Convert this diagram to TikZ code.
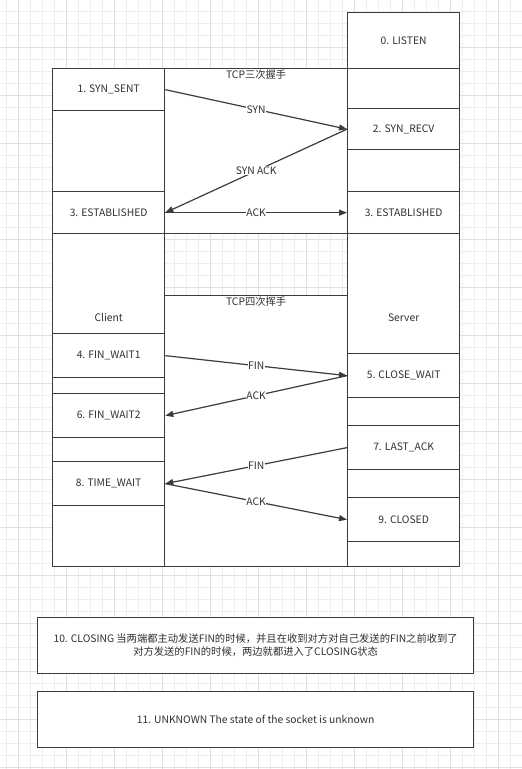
\documentclass[tikz,border=0pt]{standalone}
\usepackage{fontspec}
\setmainfont{Noto Sans CJK SC}
\usepackage{xcolor}
\usetikzlibrary{arrows.meta}
\definecolor{linegray}{RGB}{60,60,60}
\definecolor{textgray}{RGB}{48,48,48}
\definecolor{gridlight}{RGB}{238,238,238}
\definecolor{griddark}{RGB}{224,224,224}

\begin{document}
\begin{tikzpicture}[x=1pt,y=-1pt,
    box/.style={draw=linegray, line width=1.3pt, fill=white, inner sep=0pt,
      anchor=north west, text=textgray, font=\fontsize{10.3}{12}\selectfont},
    cell/.style={box, minimum width=112pt, minimum height=42pt},
    msg/.style={draw=linegray, line width=1.2pt, -{Triangle[length=8pt,width=6pt]}},
    tag/.style={fill=white, inner sep=0.5pt, text=textgray, font=\fontsize{10.3}{12}\selectfont}]
  \useasboundingbox (0,0) rectangle (522,769);
  \fill[white] (0,0) rectangle (522,769);

  % background grid
  \foreach \k in {0,...,43}
    \draw[gridlight, line width=0.8pt] (6.7+12*\k,0) -- (6.7+12*\k,769);
  \foreach \k in {0,...,63}
    \draw[gridlight, line width=0.8pt] (0,11+12*\k) -- (522,11+12*\k);
  \foreach \k in {1,5,...,41}
    \draw[griddark, line width=0.8pt] (6.7+12*\k,0) -- (6.7+12*\k,769);
  \foreach \k in {3,7,...,63}
    \draw[griddark, line width=0.8pt] (0,11+12*\k) -- (522,11+12*\k);

  % columns
  \node[box, minimum width=112pt, minimum height=498pt] (client) at (52,68) {Client};
  \node[box, minimum width=112pt, minimum height=498pt] (server) at (347,68) {Server};
  \node[box, minimum width=112pt, minimum height=56pt] (listen) at (347,12) {0. LISTEN};

  % handshake areas
  \node[box, minimum width=183pt, minimum height=165pt] (open) at (164,68) {};
  \node[tag, anchor=north, fill=none] (openlbl) at ([yshift=-1pt]open.north) {TCP三次握手};
  \node[box, minimum width=183pt, minimum height=271pt] (close) at (164,295) {};
  \node[tag, anchor=north, fill=none] (closelbl) at ([yshift=-1pt]close.north) {TCP四次挥手};

  % client states
  \node[cell] (synsent) at (52,68) {1. SYN\_SENT};
  \node[cell] (cest) at (52,191) {3. ESTABLISHED};
  \node[cell, minimum height=44pt] (finwaita) at (52,333) {4. FIN\_WAIT1};
  \node[cell, minimum height=44pt] (finwaitb) at (52,393) {6. FIN\_WAIT2};
  \node[cell, minimum height=44pt] (timewait) at (52,461) {8. TIME\_WAIT};

  % server states
  \node[cell, minimum height=41pt] (synrecv) at (347,108) {2. SYN\_RECV};
  \node[cell] (sest) at (347,191) {3. ESTABLISHED};
  \node[cell, minimum height=44pt] (closewait) at (347,353) {5. CLOSE\_WAIT};
  \node[cell, minimum height=44pt] (lastack) at (347,425) {7. LAST\_ACK};
  \node[cell, minimum height=44pt] (closed) at (347,497) {9. CLOSED};

  % messages
  \draw[msg] (synsent.east) -- node[tag] {SYN} (synrecv.west);
  \draw[msg] (synrecv.west) -- node[tag] {SYN ACK} (cest.east);
  \draw[msg] (cest.east) -- node[tag] {ACK} (sest.west);
  \draw[msg] (finwaita.east) -- node[tag] {FIN} (closewait.west);
  \draw[msg] (closewait.west) -- node[tag] {ACK} (finwaitb.east);
  \draw[msg] (lastack.west) -- node[tag] {FIN} (timewait.east);
  \draw[msg] (timewait.east) -- node[tag] {ACK} (closed.west);

  % notes
  \node[box, minimum width=436pt, minimum height=56pt, align=center,
    font=\fontsize{10.3}{13}\selectfont] (closing) at (37,617)
    {10. CLOSING 当两端都主动发送FIN的时候，并且在收到对方对自己发送的FIN之前收到了\\
     对方发送的FIN的时候，两边就都进入了CLOSING状态};
  \node[box, minimum width=436pt, minimum height=56pt] (unknown) at (37,691)
    {11. UNKNOWN The state of the socket is unknown};
\end{tikzpicture}
\end{document}
